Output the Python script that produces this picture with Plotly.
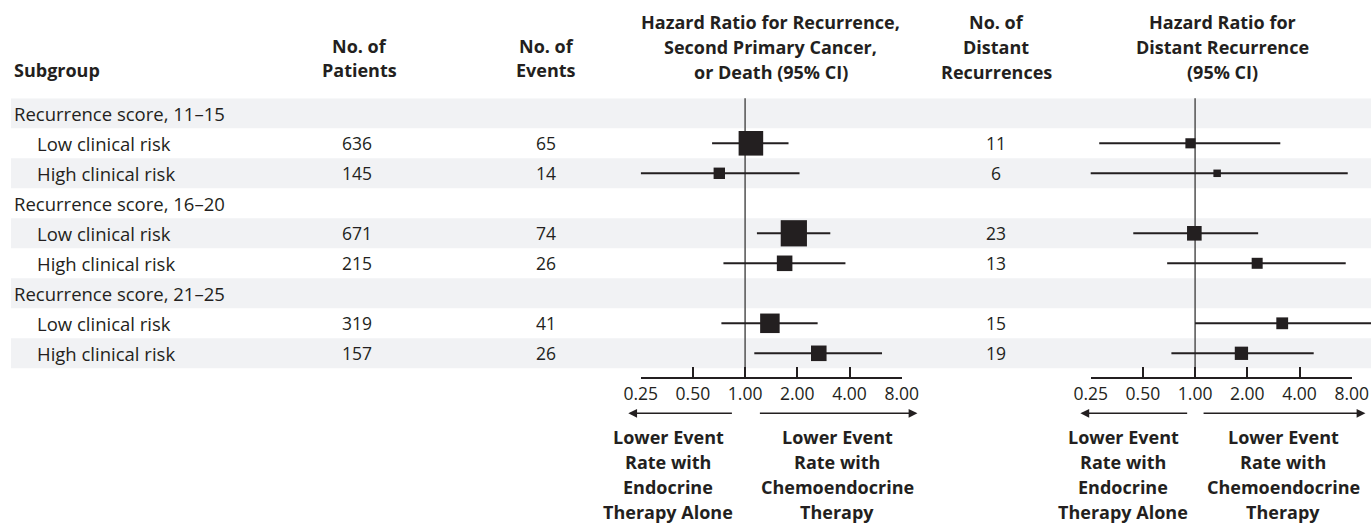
import math
import plotly.graph_objects as go

# ---------------- data ----------------
subgroups = ["Recurrence score, 11\u201315", "Low clinical risk", "High clinical risk",
             "Recurrence score, 16\u201320", "Low clinical risk", "High clinical risk",
             "Recurrence score, 21\u201325", "Low clinical risk", "High clinical risk"]
is_header = [True, False, False, True, False, False, True, False, False]
patients = [None, 636, 145, None, 671, 215, None, 319, 157]
events = [None, 65, 14, None, 74, 26, None, 41, 26]
distant = [None, 11, 6, None, 23, 13, None, 15, 19]

# Hazard ratio for recurrence, second primary cancer, or death
hr_event = [None, 1.08, 0.71, None, 1.91, 1.69, None, 1.39, 2.66]
lo_event = [None, 0.645, 0.25, None, 1.17, 0.75, None, 0.73, 1.13]
hi_event = [None, 1.78, 2.06, None, 3.10, 3.79, None, 2.62, 6.16]

# Hazard ratio for distant recurrence
hr_dist = [None, 0.94, 1.34, None, 0.99, 2.28, None, 3.18, 1.85]
lo_dist = [None, 0.28, 0.243, None, 0.44, 0.69, None, 1.00, 0.73]
hi_dist = [None, 3.10, 7.59, None, 2.31, 7.39, None, 10.6, 4.83]

tick_vals = [0.25, 0.5, 1, 2, 4, 8]
tick_text = ["0.25", "0.50", "1.00", "2.00", "4.00", "8.00"]

# ---------------- layout helpers ----------------
W, H = 1371, 525
FONT = "Open Sans"
INK = "#231f20"
STRIPE = "#f1f2f4"
FS_ROW = 18.5
FS_NUM = 17.5
FS_HEAD = 18


def px(x):
    return x / W


def py(y):
    return 1 - y / H


# y axis: rows 0..8, top of stripes at 98.3px, axis baseline at 377px, 30px per row
ROW_H = 30.0
Y_TOP, Y_BOT = 98.3, 377.0
y_range = [-0.5 + (Y_BOT - Y_TOP) / ROW_H, -0.5]

# x axes: 52.2 px per doubling
PPD = 52.2
# pixel of HR 0.25 and right end of each domain
AX = {"x": (640.7, 901.7), "x2": (1090.7, W), "x3": (1090.7, 1351.7)}


def ax_range(xa):
    x0, x1 = AX[xa]
    return [math.log10(0.25), math.log10(0.25) + (x1 - x0) / PPD * math.log10(2)]


def hr_paper(hr, xa):
    return px(AX[xa][0] + math.log2(hr / 0.25) * PPD)


fig = go.Figure()


def forest(hr, lo, hi, counts, xa):
    xs, ys = [], []
    mx, my, ms = [], [], []
    for i in range(len(hr)):
        if hr[i] is None:
            continue
        xs += [lo[i], hi[i], None]
        ys += [i, i, None]
        mx.append(hr[i])
        my.append(i)
        ms.append(3.05 * math.sqrt(counts[i]))
    fig.add_trace(go.Scatter(x=xs, y=ys, mode="lines", xaxis=xa, yaxis="y",
                             line=dict(color=INK, width=2), hoverinfo="skip",
                             showlegend=False))
    fig.add_trace(go.Scatter(x=mx, y=my, mode="markers", xaxis=xa, yaxis="y",
                             marker=dict(symbol="square", size=ms, color=INK, opacity=1,
                                         line=dict(width=0)),
                             showlegend=False, cliponaxis=False))


forest(hr_event, lo_event, hi_event, events, "x")
forest(hr_dist, lo_dist, hi_dist, distant, "x2")
# empty trace so the right-hand scale axis (x3) gets its own subplot
fig.add_trace(go.Scatter(x=[], y=[], xaxis="x3", yaxis="y", showlegend=False))

shapes = []
# stripes
for i in range(len(subgroups)):
    if i % 2 == 0:
        shapes.append(dict(type="rect", xref="paper", yref="y", x0=px(11), x1=1,
                           y0=i - 0.5, y1=i + 0.5, fillcolor=STRIPE,
                           line=dict(width=0), layer="below"))
# reference lines at HR = 1
for xa in ["x", "x2"]:
    shapes.append(dict(type="line", xref="paper", yref="paper",
                       x0=hr_paper(1, xa), x1=hr_paper(1, xa), y0=py(Y_BOT), y1=py(Y_TOP),
                       line=dict(color="#5c5c5c", width=1.6), layer="below"))

ann = []


def txt(x, y, s, bold=False, xanchor="center", yref="paper", size=FS_HEAD):
    ann.append(dict(x=x, y=y, xref="paper", yref=yref, text=(f"<b>{s}</b>" if bold else s),
                    showarrow=False, xanchor=xanchor, yanchor="middle",
                    font=dict(family=FONT, size=size, color=INK)))


def lines_block(xc, ys, lines, bold=True):
    for yy, s in zip(ys, lines):
        txt(px(xc), py(yy), s, bold=bold)


# headers
txt(px(12), py(70), "Subgroup", bold=True, xanchor="left")
lines_block(360, [46, 70], ["No. of", "Patients"])
lines_block(546, [46, 70], ["No. of", "Events"])
lines_block(771, [21.7, 46.7, 71.7], ["Hazard Ratio for Recurrence,", "Second Primary Cancer,",
                                       "or Death (95% CI)"])
lines_block(996, [21.7, 46.7, 71.7], ["No. of", "Distant", "Recurrences"])
lines_block(1222, [21.7, 46.7, 71.7], ["Hazard Ratio for", "Distant Recurrence", "(95% CI)"])

# rows
for i, name in enumerate(subgroups):
    if is_header[i]:
        txt(px(12), i, name, xanchor="left", yref="y", size=FS_ROW)
    else:
        txt(px(35), i, name, xanchor="left", yref="y", size=FS_ROW)
        txt(px(357), i, str(patients[i]), yref="y", size=FS_NUM)
        txt(px(546), i, str(events[i]), yref="y", size=FS_NUM)
        txt(px(996), i, str(distant[i]), yref="y", size=FS_NUM)

# direction arrows (tail HR, tip HR)
arrow_y = py(413.3)
for xa, pairs in [("x", [(0.856, 0.212), (1.193, 9.86)]),
                  ("x2", [(0.918, 0.218), (1.097, 9.6)])]:
    for tail, tip in pairs:
        tip_p = hr_paper(tip, xa)
        tail_p = hr_paper(tail, xa)
        ann.append(dict(x=tip_p, y=arrow_y, xref="paper", yref="paper",
                        ax=(tail_p - tip_p) * W, ay=0, axref="pixel", ayref="pixel",
                        text="", showarrow=True, arrowhead=2, arrowsize=1.1,
                        arrowwidth=1.6, arrowcolor=INK, standoff=0, startstandoff=0))

bottom_ys = [436.7, 461.7, 486.7, 511.7]
lines_block(668, bottom_ys, ["Lower Event", "Rate with", "Endocrine", "Therapy Alone"])
lines_block(837, bottom_ys, ["Lower Event", "Rate with", "Chemoendocrine", "Therapy"])
lines_block(1123.3, bottom_ys, ["Lower Event", "Rate with", "Endocrine", "Therapy Alone"])
lines_block(1283.3, bottom_ys, ["Lower Event", "Rate with", "Chemoendocrine", "Therapy"])

scale_axis = dict(type="log", tickvals=tick_vals, ticktext=tick_text, ticks="inside",
                  ticklen=10, tickwidth=1.6, tickcolor=INK,
                  showline=True, linecolor=INK, linewidth=1.6,
                  showgrid=False, zeroline=False, anchor="y",
                  automargin=False, ticklabelstandoff=0,
                  tickfont=dict(family=FONT, size=FS_NUM, color=INK), fixedrange=True)
data_axis = dict(type="log", showticklabels=False, ticks="", showline=False,
                 showgrid=False, zeroline=False, anchor="y", automargin=False,
                 fixedrange=True)

fig.update_layout(
    width=W, height=H,
    margin=dict(l=0, r=0, t=0, b=0, pad=0, autoexpand=False),
    paper_bgcolor="white", plot_bgcolor="rgba(0,0,0,0)",
    showlegend=False,
    xaxis=dict(domain=[px(AX["x"][0]), px(AX["x"][1])], range=ax_range("x"), **scale_axis),
    xaxis2=dict(domain=[px(AX["x2"][0]), px(AX["x2"][1])], range=ax_range("x2"), **data_axis),
    xaxis3=dict(domain=[px(AX["x3"][0]), px(AX["x3"][1])], range=ax_range("x3"), **scale_axis),
    yaxis=dict(domain=[py(Y_BOT), py(Y_TOP)], range=y_range, visible=False,
               fixedrange=True, automargin=False),
    shapes=shapes,
    annotations=ann,
)

fig.write_html("out.html")
